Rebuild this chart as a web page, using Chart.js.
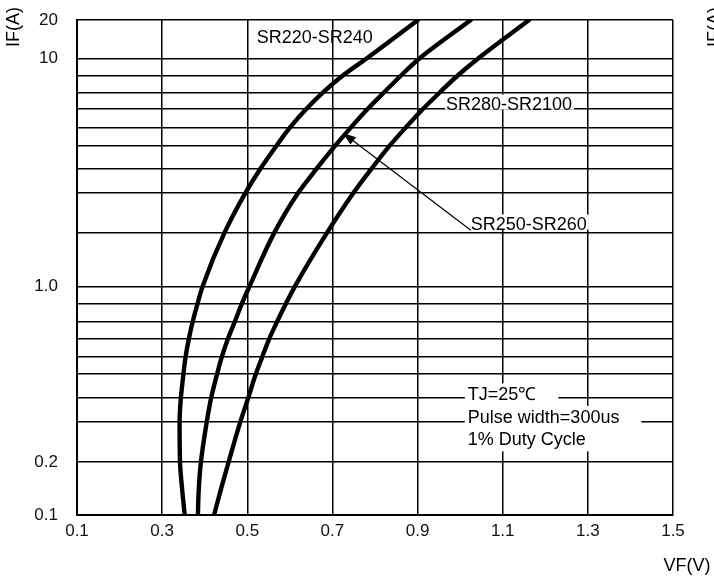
<!DOCTYPE html>
<html>
<head>
<meta charset="utf-8">
<script src="https://cdn.jsdelivr.net/npm/chart.js@4.4.0/dist/chart.umd.min.js"></script>
<style>
  html, body { margin: 0; padding: 0; background: #fff; }
  #wrap { width: 714px; height: 581px; position: relative; }
</style>
</head>
<body>
<div id="wrap"><canvas id="chart-vf" width="714" height="581"></canvas></div>
<script>
// IF vs VF (Tj=25C)
const currentA = [0.1, 0.14, 0.2, 0.3, 0.4, 0.5, 0.6, 0.7, 0.8, 0.9, 1, 2, 3, 4, 5, 6, 7, 8, 9, 10, 20];
const vfSR220 = [0.353, 0.347, 0.342, 0.341, 0.344, 0.350, 0.355, 0.363, 0.372, 0.383, 0.395, 0.446, 0.496, 0.530, 0.569, 0.600, 0.638, 0.678, 0.723, 0.781, 0.901];
const vfSR250 = [0.384, 0.386, 0.391, 0.405, 0.415, 0.429, 0.440, 0.455, 0.471, 0.487, 0.505, 0.563, 0.620, 0.662, 0.707, 0.743, 0.782, 0.821, 0.860, 0.905, 1.025];
const vfSR280 = [0.422, 0.438, 0.456, 0.484, 0.502, 0.520, 0.535, 0.552, 0.5705, 0.5905, 0.6116, 0.6868, 0.750, 0.791, 0.835, 0.872, 0.912, 0.952, 0.993, 1.043, 1.162];
const seriesNames = ['SR220-SR240', 'SR250-SR260', 'SR280-SR2100'];

const xTicks = [0.1, 0.3, 0.5, 0.7, 0.9, 1.1, 1.3, 1.5];
const yGridValues = [0.1, 0.2, 0.3, 0.4, 0.5, 0.6, 0.7, 0.8, 0.9, 1, 2, 3, 4, 5, 6, 7, 8, 9, 10, 20];
const yTickLabels = ['0.1', '0.2', '', '', '', '', '', '', '', '1.0', '', '', '', '', '', '', '', '', '10', '20'];
// the printed grid isn't a true log axis, so keep where each line sits (fraction of plot height)
const yGridFrac = [0, 0.1066, 0.1890, 0.2362, 0.2847, 0.3190, 0.3570, 0.3913, 0.4266, 0.4615,
                   0.5694, 0.6513, 0.6986, 0.7466, 0.7826, 0.8197, 0.8536, 0.8869, 0.9227, 1];

const conditionLines = ['TJ=25\u2103', 'Pulse width=300us', '1% Duty Cycle'];

function fracForValue(v) {
  if (v <= yGridValues[0]) return yGridFrac[0];
  for (let i = 1; i < yGridValues.length; i++) {
    if (v <= yGridValues[i]) {
      const a = Math.log(yGridValues[i - 1]), b = Math.log(yGridValues[i]);
      const t = (Math.log(v) - a) / (b - a);
      return yGridFrac[i - 1] + t * (yGridFrac[i] - yGridFrac[i - 1]);
    }
  }
  return 1;
}

function valueForFrac(f) {
  for (let i = 1; i < yGridFrac.length; i++) {
    if (f <= yGridFrac[i]) {
      const t = (f - yGridFrac[i - 1]) / (yGridFrac[i] - yGridFrac[i - 1]);
      const a = Math.log(yGridValues[i - 1]), b = Math.log(yGridValues[i]);
      return Math.exp(a + t * (b - a));
    }
  }
  return yGridValues[yGridValues.length - 1];
}

class PrintedLogScale extends Chart.LinearScale {
  static id = 'printedLog';
  buildTicks() {
    return yGridValues.map(v => ({ value: v }));
  }
  getPixelForValue(value) {
    return this.getPixelForDecimal(fracForValue(value));
  }
  getValueForPixel(pixel) {
    return valueForFrac(this.getDecimalForPixel(pixel));
  }
}
Chart.register(PrintedLogScale);

const FONT = "'Liberation Sans', Arial, sans-serif";

function toPoints(vf) {
  return currentA.map((a, i) => ({ x: vf[i], y: a }));
}

// text + arrow drawn on top, anchored in data units
const notesPlugin = {
  id: 'notes',
  afterDatasetsDraw(chart) {
    const { ctx, scales: { x, y } } = chart;
    ctx.save();
    ctx.font = '18px ' + FONT;
    ctx.fillStyle = '#000';
    ctx.textBaseline = 'middle';
    ctx.textAlign = 'left';

    // series labels
    const labels = [
      { text: seriesNames[0], vx: 0.522, vy: 14.6, box: false },
      { text: seriesNames[2], vx: 0.9665, vy: 7.27, box: true },
      { text: seriesNames[1], vx: 1.025, vy: 2.18, box: true }
    ];
    labels.forEach(l => {
      const px = x.getPixelForValue(l.vx), py = y.getPixelForValue(l.vy);
      if (l.box) {
        const w = ctx.measureText(l.text).width;
        ctx.fillStyle = '#fff';
        ctx.fillRect(px - 1, py - 10, w + 3, 15);
        ctx.fillStyle = '#000';
      }
      ctx.fillText(l.text, px, py + 1);
    });

    // arrow pointing at the middle curve
    const x0 = x.getPixelForValue(1.025), y0 = y.getPixelForValue(2.06);
    const x1 = x.getPixelForValue(0.7245), y1 = y.getPixelForValue(5.68);
    const ang = Math.atan2(y1 - y0, x1 - x0);
    ctx.strokeStyle = '#000';
    ctx.lineWidth = 1.2;
    ctx.beginPath();
    ctx.moveTo(x0, y0);
    ctx.lineTo(x1 - 8 * Math.cos(ang), y1 - 8 * Math.sin(ang));
    ctx.stroke();
    ctx.beginPath();
    ctx.moveTo(x1, y1);
    ctx.lineTo(x1 - 13 * Math.cos(ang) + 4.5 * Math.sin(ang), y1 - 13 * Math.sin(ang) - 4.5 * Math.cos(ang));
    ctx.lineTo(x1 - 13 * Math.cos(ang) - 4.5 * Math.sin(ang), y1 - 13 * Math.sin(ang) + 4.5 * Math.cos(ang));
    ctx.closePath();
    ctx.fill();

    // test conditions block
    const cx = x.getPixelForValue(1.018), cy = y.getPixelForValue(0.414);
    conditionLines.forEach((t, i) => {
      const ly = cy + i * 22.5;
      const w = ctx.measureText(t).width;
      ctx.fillStyle = '#fff';
      ctx.fillRect(cx - 3, ly - 11, w + 25, 23);
    });
    ctx.fillStyle = '#000';
    conditionLines.forEach((t, i) => ctx.fillText(t, cx, cy + i * 22.5 + 1));

    // axis titles
    ctx.textAlign = 'center';
    ctx.fillText('VF(V)', 687, 566);
    ctx.translate(14, 27);
    ctx.rotate(-Math.PI / 2);
    ctx.fillText('IF(A)', 0, 0);
    ctx.restore();

    // clipped title of the neighbouring graph at the right edge
    ctx.save();
    ctx.font = '18px ' + FONT;
    ctx.fillStyle = '#000';
    ctx.textAlign = 'center';
    ctx.textBaseline = 'middle';
    ctx.translate(715, 27);
    ctx.rotate(-Math.PI / 2);
    ctx.fillText('IF(A)', 0, 0);
    ctx.restore();
  }
};

const curveStyle = {
  borderColor: '#000', borderWidth: 4.4, borderCapStyle: 'round', pointRadius: 0,
  cubicInterpolationMode: 'monotone', fill: false
};

new Chart(document.getElementById('chart-vf'), {
  type: 'line',
  data: {
    datasets: [
      { label: seriesNames[0], data: toPoints(vfSR220), ...curveStyle },
      { label: seriesNames[1], data: toPoints(vfSR250), ...curveStyle },
      { label: seriesNames[2], data: toPoints(vfSR280), ...curveStyle }
    ]
  },
  options: {
    indexAxis: 'y',
    responsive: false,
    animation: false,
    events: [],
    layout: { padding: { top: 20, right: 41, left: 0, bottom: 0 } },
    plugins: { legend: { display: false }, tooltip: { enabled: false } },
    scales: {
      x: {
        type: 'linear',
        min: 0.1,
        max: 1.5,
        afterBuildTicks: s => { s.ticks = xTicks.map(v => ({ value: v })); },
        afterFit: s => { s.height = 66; s.paddingLeft = 0; s.paddingRight = 0; },
        grid: { color: '#000', lineWidth: 1.5, drawTicks: false },
        border: { color: '#000', width: 2 },
        ticks: {
          padding: 6,
          color: '#111',
          font: { family: FONT, size: 17 },
          maxRotation: 0,
          autoSkip: false,
          callback: v => v.toFixed(1)
        }
      },
      y: {
        type: 'printedLog',
        min: 0.1,
        max: 20,
        afterFit: s => { s.width = 77; s.paddingTop = 0; s.paddingBottom = 0; },
        grid: { color: '#000', lineWidth: 1.5, drawTicks: false },
        border: { color: '#000', width: 2 },
        ticks: {
          padding: 19,
          color: '#111',
          font: { family: FONT, size: 17 },
          autoSkip: false,
          callback: (v, i) => yTickLabels[i]
        }
      }
    }
  },
  plugins: [notesPlugin]
});
</script>
</body>
</html>
